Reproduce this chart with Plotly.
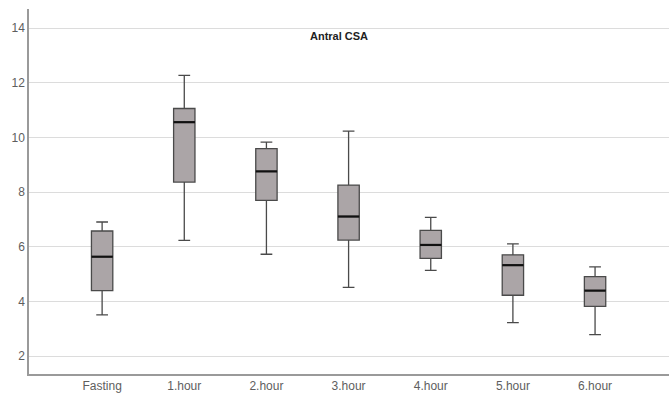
import plotly.graph_objects as go

categories = ["Fasting", "1.hour", "2.hour", "3.hour", "4.hour", "5.hour", "6.hour"]
lower_whisker = [3.51, 6.24, 5.73, 4.52, 5.14, 3.23, 2.79]
q1_values = [4.40, 8.37, 7.70, 6.25, 5.58, 4.23, 3.82]
median_values = [5.64, 10.56, 8.76, 7.11, 6.07, 5.33, 4.40]
q3_values = [6.58, 11.06, 9.59, 8.26, 6.60, 5.71, 4.91]
upper_whisker = [6.91, 12.27, 9.83, 10.23, 7.08, 6.11, 5.27]
y_ticks = [2, 4, 6, 8, 10, 12, 14]

BOX_W = 0.26

fig = go.Figure()
fig.add_trace(go.Box(
    x=categories,
    q1=q1_values,
    median=median_values,
    q3=q3_values,
    lowerfence=lower_whisker,
    upperfence=upper_whisker,
    width=BOX_W,
    whiskerwidth=0.55,
    fillcolor="#aba5a7",
    line=dict(color="#4a4a4a", width=1.3),
    showlegend=False,
    hoverinfo="y",
))

# thicker black median lines
for i, m in enumerate(median_values):
    fig.add_shape(type="line", xref="x", yref="y",
                  x0=i - BOX_W / 2, x1=i + BOX_W / 2, y0=m, y1=m,
                  line=dict(color="#111111", width=2.2))

fig.add_annotation(text="<b>Antral CSA</b>", xref="paper", yref="paper",
                   x=0.484, y=0.926, xanchor="center", yanchor="middle",
                   showarrow=False,
                   font=dict(family="Arial, Liberation Sans", size=11, color="#222222"))

fig.update_layout(
    width=672, height=394,
    margin=dict(l=29, r=3, t=9, b=20),
    paper_bgcolor="white", plot_bgcolor="white",
    font=dict(family="Arial, Liberation Sans", size=12, color="#5e5e5e"),
)
fig.update_xaxes(
    type="category", categoryorder="array", categoryarray=categories,
    range=[-0.89, 6.9], showgrid=False, zeroline=False, automargin=False,
    showline=True, linecolor="#9a9a9a", linewidth=1.5, ticks="",
    tickfont=dict(size=12, color="#5e5e5e"),
)
fig.update_yaxes(
    range=[1.35, 14.7], tickvals=y_ticks, showgrid=True, gridcolor="#dcdcdc",
    gridwidth=1.2, zeroline=False, showline=True, linecolor="#9a9a9a",
    linewidth=1.5, ticks="", automargin=False,
    tickfont=dict(size=12, color="#5e5e5e"),
)

fig.write_html("out.html", config={"displayModeBar": False},
               post_script="document.body.style.margin='0';document.body.style.overflow='hidden';")
